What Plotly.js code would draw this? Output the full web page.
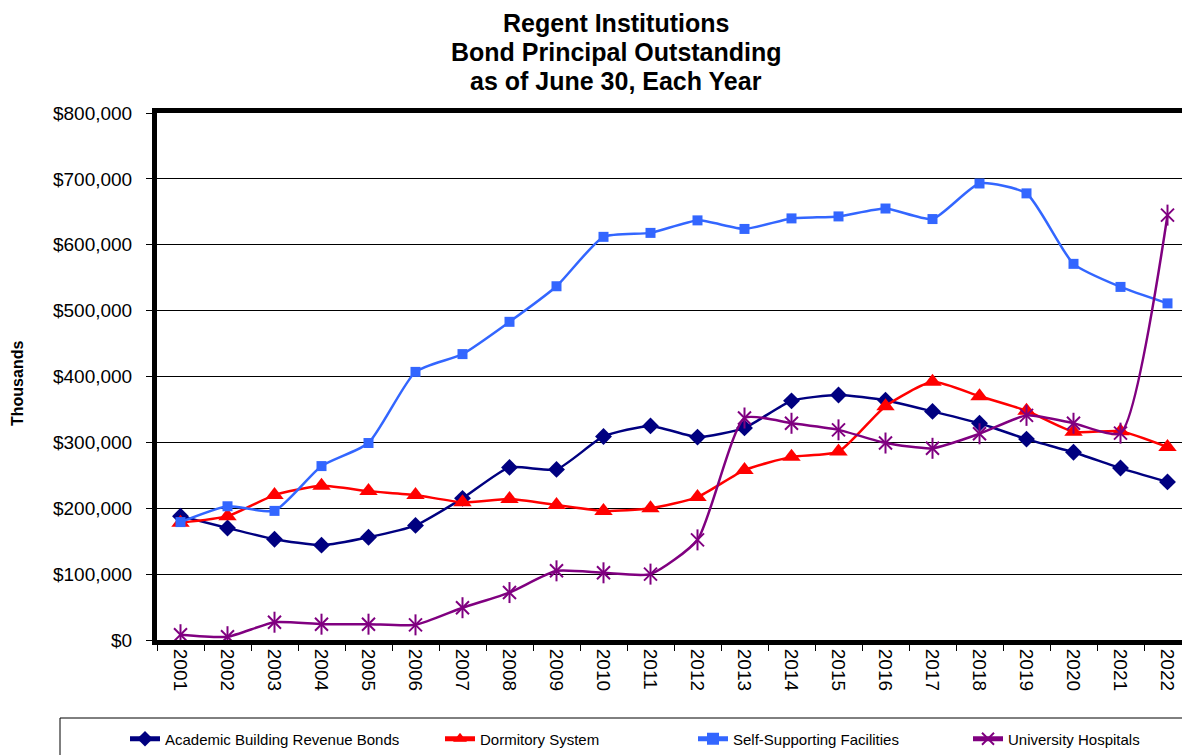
<!DOCTYPE html>
<html><head><meta charset="utf-8">
<script src="https://cdn.plot.ly/plotly-3.0.1.min.js"></script>
<style>html,body{margin:0;padding:0;overflow:hidden;background:#fff}</style>
</head><body>
<div id="chart"></div>
<script>
const years = ['2001','2002','2003','2004','2005','2006','2007','2008','2009','2010','2011','2012','2013','2014','2015','2016','2017','2018','2019','2020','2021','2022'];
const academic = [188000,170000,153000,144000,156000,174000,215000,262000,259000,309000,325000,308000,322000,363000,372000,364000,347000,329000,305000,285000,261000,240000];
const dormitory = [178000,188000,220000,234000,226000,220000,209000,214000,205000,196000,200000,217000,258000,278000,286000,355000,392000,370000,348000,316000,317000,293000];
const selfSupporting = [179000,203000,196000,264000,299000,407000,434000,483000,537000,612000,618000,637000,624000,640000,643000,655000,639000,693000,678000,571000,536000,511000];
const hospitals = [8000,5000,27000,24000,24000,23000,49000,72000,105000,102000,100000,152000,337000,329000,319000,299000,291000,313000,341000,329000,314000,645000];
const seriesNames = ['Academic Building Revenue Bonds','Dormitory System','Self-Supporting Facilities','University Hospitals'];
const titleLines = ['Regent Institutions','Bond Principal Outstanding','as of June 30, Each Year'];
const yAxisTitle = 'Thousands';
const yTickVals = [0,100000,200000,300000,400000,500000,600000,700000,800000];
const yTickText = ['$0','$100,000','$200,000','$300,000','$400,000','$500,000','$600,000','$700,000','$800,000'];

const W = 1195, H = 755;
const PL = 157, PR = 1191, PT = 113, PB = 640;
const PW = PR - PL, PH = PB - PT;
const sm = 0.55;
const traces = [
  {x: years, y: academic, name: seriesNames[0], mode: 'lines+markers', legend: 'legend',
   line: {color: '#000080', width: 2.5, shape: 'spline', smoothing: sm},
   marker: {symbol: 'diamond', size: 13, color: '#000080'}},
  {x: years, y: dormitory, name: seriesNames[1], mode: 'lines+markers', legend: 'legend2',
   line: {color: '#FF0000', width: 2.5, shape: 'spline', smoothing: sm},
   marker: {symbol: 'triangle-up', size: 16, color: '#FF0000'}},
  {x: years, y: selfSupporting, name: seriesNames[2], mode: 'lines+markers', legend: 'legend3',
   line: {color: '#3366FF', width: 2.5, shape: 'spline', smoothing: sm},
   marker: {symbol: 'square', size: 10, color: '#3366FF'}},
  {x: years, y: hospitals, name: seriesNames[3], mode: 'lines+markers', legend: 'legend4',
   line: {color: '#800080', width: 2.5, shape: 'spline', smoothing: sm},
   marker: {symbol: 'x-thin-open', size: 13, color: '#800080', line: {color: '#800080', width: 2}}},
  {x: years, y: hospitals, name: seriesNames[3], mode: 'markers', showlegend: false, hoverinfo: 'skip',
   marker: {symbol: 'line-ns-open', size: 15, color: '#800080', line: {color: '#800080', width: 2}}}
];

const legBase = {orientation: 'h', xref: 'container', yref: 'container', yanchor: 'middle', xanchor: 'left',
  y: 1 - 739/H, bgcolor: 'rgba(0,0,0,0)', borderwidth: 0, font: {family: 'Liberation Sans, Arial', size: 15, color: '#000'}, itemsizing: 'constant'};

const titleY = [23, 52, 81];
const annotations = titleLines.map((t, i) => ({
  text: '<b>' + t + '</b>', xref: 'paper', yref: 'paper', x: (616 - PL)/PW, y: (PB - titleY[i])/PH,
  xanchor: 'center', yanchor: 'middle', showarrow: false,
  font: {family: 'Liberation Sans, Arial', size: 25, color: '#000'}
}));
annotations.push({
  text: '<b>' + yAxisTitle + '</b>', xref: 'paper', yref: 'paper', x: (18 - PL)/PW, y: (PB - 384)/PH,
  xanchor: 'center', yanchor: 'middle', textangle: -90, showarrow: false,
  font: {family: 'Liberation Sans, Arial', size: 16, color: '#000'}
});

const layout = {
  width: W, height: H,
  margin: {l: PL, r: W - PR, t: PT, b: H - PB},
  paper_bgcolor: '#fff', plot_bgcolor: '#fff',
  font: {family: 'Liberation Sans, Arial', color: '#000'},
  annotations: annotations,
  xaxis: {type: 'category', tickangle: 90, tickfont: {size: 19}, ticks: 'outside', ticklen: 6, tickcolor: '#000',
    tickson: 'boundaries', showgrid: false, showline: true, linecolor: '#000', linewidth: 5, mirror: true,
    range: [-0.5, 21.5]},
  yaxis: {range: [0, 800000], tickvals: yTickVals, ticktext: yTickText, tickfont: {size: 19},
    ticks: 'outside', ticklen: 6, tickcolor: '#000', ticklabelstandoff: 10, showgrid: true, gridcolor: '#000', gridwidth: 1,
    zeroline: false, showline: true, linecolor: '#000', linewidth: 5, mirror: true},
  legend: Object.assign({}, legBase, {x: 125/W}),
  legend2: Object.assign({}, legBase, {x: 440/W}),
  legend3: Object.assign({}, legBase, {x: 693/W}),
  legend4: Object.assign({}, legBase, {x: 968/W}),
  shapes: [{type: 'rect', xref: 'paper', yref: 'paper',
    x0: (60 - PL)/PW, x1: (1300 - PL)/PW, y0: -(718 - PB + 60)/PH, y1: -(718 - PB)/PH,
    line: {color: '#000', width: 1}, fillcolor: 'rgba(0,0,0,0)'}],
  showlegend: true
};
Plotly.newPlot('chart', traces, layout, {displayModeBar: false, staticPlot: true});
</script>
</body></html>
